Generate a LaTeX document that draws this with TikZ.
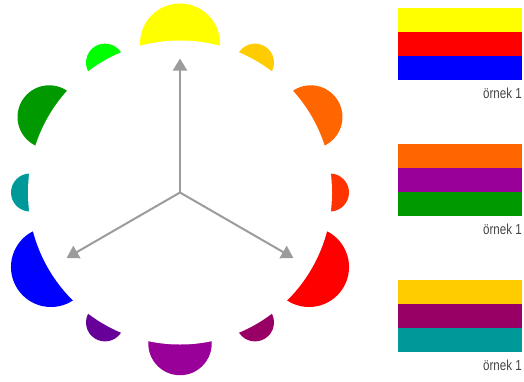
\documentclass[tikz,border=0pt]{standalone}
\usepackage{fontspec}
\newfontfamily\labelfont[FakeStretch=0.8]{Liberation Sans}
\usetikzlibrary{arrows.meta,calc}
\definecolor{cY}{HTML}{FFFF00}
\definecolor{cYO}{HTML}{FFCC00}
\definecolor{cO}{HTML}{FF6600}
\definecolor{cRO}{HTML}{FF3300}
\definecolor{cR}{HTML}{FF0000}
\definecolor{cRV}{HTML}{990066}
\definecolor{cV}{HTML}{990099}
\definecolor{cBV}{HTML}{660099}
\definecolor{cB}{HTML}{0000FF}
\definecolor{cBG}{HTML}{009999}
\definecolor{cG}{HTML}{009900}
\definecolor{cYG}{HTML}{00FF00}
\definecolor{arrgray}{HTML}{9C9C9C}
\definecolor{txtgray}{HTML}{444444}
\tikzset{
  arr/.style={draw=arrgray, line width=2pt, -{Triangle[length=12pt,width=14pt]}},
  lbl/.style={anchor=base east, inner sep=0pt, text=txtgray, font=\labelfont\fontsize{14.5}{14.5}\selectfont}
}
\begin{document}
\begin{tikzpicture}[x=1pt,y=-1pt]
\useasboundingbox (0,0) rectangle (524,381);
\coordinate (C) at (180,192.5);
% primaries
\fill[cY]  ($(C)+(90:149pt)$)  circle (40pt);
\fill[cR]  ($(C)+(-30:149pt)$) circle (40pt);
\fill[cB]  ($(C)+(210:149pt)$) circle (40pt);
% secondaries
\fill[cO]  ($(C)+(30:151pt)$)  circle (31.7pt);
\fill[cV]  ($(C)+(-90:151pt)$) circle (31.7pt);
\fill[cG]  ($(C)+(150:151pt)$) circle (31.7pt);
% tertiaries
\fill[cYO] ($(C)+(60:150pt)$)  circle (19pt);
\fill[cRO] ($(C)+(0:150pt)$)   circle (19pt);
\fill[cRV] ($(C)+(-60:150pt)$) circle (19pt);
\fill[cBV] ($(C)+(240:150pt)$) circle (19pt);
\fill[cBG] ($(C)+(180:150pt)$) circle (19pt);
\fill[cYG] ($(C)+(120:150pt)$) circle (19pt);
% inner white circle
\fill[white] (C) circle (152pt);
% arrows
\coordinate (TY) at ($(C)+(90:134pt)$);
\coordinate (TR) at ($(C)+(-30:131pt)$);
\coordinate (TB) at ($(C)+(210:131pt)$);
\draw[arr] (C) -- (TY);
\draw[arr] (C) -- (TR);
\draw[arr] (C) -- (TB);
% swatches
\fill[cY]  (398,8.3) rectangle (522.3,32.3);
\fill[cR]  (398,32.3) rectangle (522.3,56.3);
\fill[cB]  (398,56.3) rectangle (522.3,80.3);
\fill[cO]  (398,144.3) rectangle (522.3,168.3);
\fill[cV]  (398,168.3) rectangle (522.3,192.3);
\fill[cG]  (398,192.3) rectangle (522.3,216.3);
\fill[cYO] (398,280) rectangle (522.3,304);
\fill[cRV] (398,304) rectangle (522.3,328);
\fill[cBG] (398,328) rectangle (522.3,352);
% labels
\node[lbl] (l1) at (522,98.7) {örnek 1};
\node[lbl] (l2) at (522,234.4) {örnek 1};
\node[lbl] (l3) at (522,370.1) {örnek 1};
\end{tikzpicture}
\end{document}
